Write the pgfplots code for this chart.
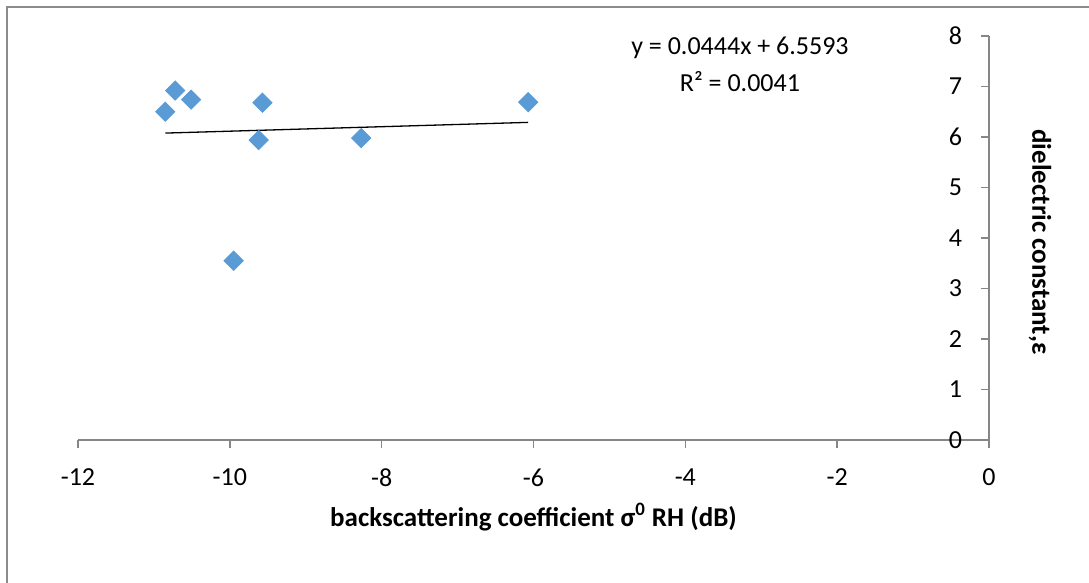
\documentclass[border=0pt]{standalone}
\usepackage{fontspec}
\setmainfont{Carlito}
\usepackage{pgfplots}
\pgfplotsset{compat=1.18}

\definecolor{markblue}{HTML}{5B9BD5}
\definecolor{axisgray}{HTML}{868686}
\definecolor{framegray}{HTML}{8C8C8C}

\begin{document}
\begin{tikzpicture}
\useasboundingbox (0,0) rectangle (544.5pt,291.5pt);
\begin{axis}[
    at={(39pt,71.5pt)}, anchor=south west,
    scale only axis,
    width=455.5pt, height=202pt,
    xmin=-12, xmax=0,
    ymin=0, ymax=8,
    axis x line=bottom,
    axis y line=right,
    axis line style={-, axisgray, line width=0.75pt},
    xtick={-12,-10,-8,-6,-4,-2,0},
    ytick={0,1,2,3,4,5,6,7,8},
    xtick align=outside,
    ytick align=inside,
    major tick length=4pt,
    tick style={axisgray, line width=0.75pt},
    font=\fontsize{13}{15}\selectfont,
    /pgf/number format/assume math mode=true,
    yticklabel style={anchor=east, xshift=-10pt},
    xticklabel style={yshift=-7pt},
    every axis x label/.style={at={(rel axis cs:0.5,0)}, anchor=center, yshift=-38.5pt, font=\fontsize{13.5}{15}\selectfont},
    every axis y label/.style={at={(rel axis cs:1,0.49)}, anchor=center, xshift=25.5pt, rotate=-90, font=\fontsize{13.5}{15}\selectfont},
    xlabel={\textbf{backscattering coefficient σ\textsuperscript{0} RH (dB)}},
    ylabel={\textbf{dielectric constant,ε}},
    clip=false,
]
\addplot[only marks, mark=square*, mark size=3.4pt,
    mark options={rotate=45, fill=markblue, draw=markblue}] coordinates {
    (-10.85,6.50)
    (-10.72,6.92)
    (-10.51,6.74)
    (-9.57,6.68)
    (-9.62,5.94)
    (-9.95,3.55)
    (-8.27,5.98)
    (-6.07,6.69)
};
\addplot[black, line width=0.65pt] coordinates {
    (-10.85,6.0776)
    (-6.07,6.2898)
};
\node[font=\fontsize{13}{15}\selectfont] at (axis cs:-3.28,7.76) {y = 0.0444x + 6.5593};
\node[font=\fontsize{13}{15}\selectfont] at (axis cs:-3.28,7.09) {R² = 0.0041};
\end{axis}
\draw[framegray, line width=0.75pt] (3.5pt,0) -- (3.5pt,288pt) -- (544.5pt,288pt);
\end{tikzpicture}
\end{document}
